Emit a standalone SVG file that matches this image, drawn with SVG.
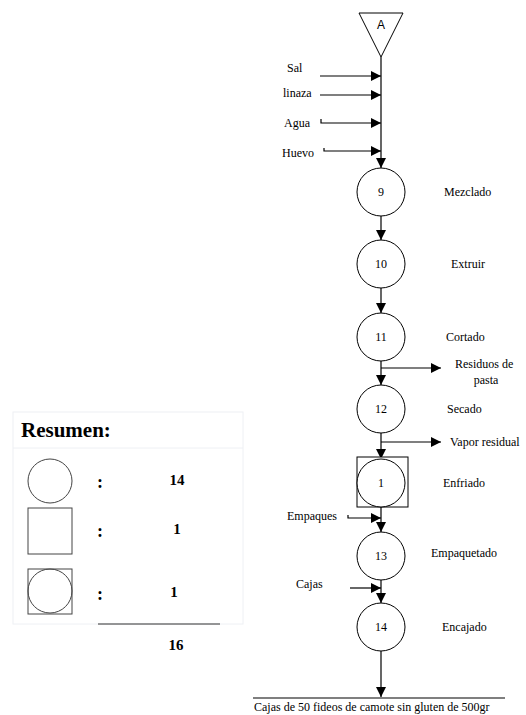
<svg xmlns="http://www.w3.org/2000/svg" width="526" height="715" viewBox="0 0 526 715">
<defs>
<marker id="ah" viewBox="0 0 10 10" refX="10" refY="5" markerWidth="10" markerHeight="10" markerUnits="userSpaceOnUse" orient="auto">
<path d="M0,0 L10,5 L0,10 z" fill="#000"/>
</marker>
</defs>
<style>
text{font-family:"Liberation Serif","DejaVu Serif",serif}
.t{font-size:12px;fill:#000}
.c{text-anchor:middle;dominant-baseline:central}
.s{fill:#fff;stroke:#000;stroke-width:1}
.ln{stroke:#000;stroke-width:1.2;fill:none}
.b{font-weight:bold;fill:#000}
</style>
<rect width="526" height="715" fill="#fff"/>

<g id="connectors">
<line class="ln" x1="381" y1="57" x2="381" y2="168" marker-end="url(#ah)"/>
<line class="ln" x1="320" y1="76" x2="381" y2="76" marker-end="url(#ah)"/>
<line class="ln" x1="320" y1="95" x2="381" y2="95" marker-end="url(#ah)"/>
<polyline class="ln" points="321,119 321,123 381,123" marker-end="url(#ah)"/>
<polyline class="ln" points="324,148 324,151 381,151" marker-end="url(#ah)"/>
<line class="ln" x1="381" y1="216" x2="381" y2="240" marker-end="url(#ah)"/>
<line class="ln" x1="381" y1="288" x2="381" y2="313" marker-end="url(#ah)"/>
<line class="ln" x1="381" y1="361" x2="381" y2="385" marker-end="url(#ah)"/>
<line class="ln" x1="381" y1="368" x2="441" y2="368" marker-end="url(#ah)"/>
<line class="ln" x1="381" y1="433" x2="381" y2="459" marker-end="url(#ah)"/>
<line class="ln" x1="381" y1="442" x2="441" y2="442" marker-end="url(#ah)"/>
<line class="ln" x1="381" y1="507" x2="381" y2="532" marker-end="url(#ah)"/>
<polyline class="ln" points="348,515 348,518 381,518" marker-end="url(#ah)"/>
<line class="ln" x1="381" y1="580" x2="381" y2="603" marker-end="url(#ah)"/>
<line class="ln" x1="350" y1="588" x2="381" y2="588" marker-end="url(#ah)"/>
<line class="ln" x1="381" y1="651" x2="381" y2="697" marker-end="url(#ah)"/>
<line class="ln" x1="253" y1="698" x2="505" y2="698"/>
</g>

<g id="nodeA">
<polygon class="s" points="359,13 403,13 381,57"/>
<text x="381" y="25" text-anchor="middle" dominant-baseline="central" style="font-family:'Liberation Sans',Arial,sans-serif;font-size:12px">A</text>
</g>
<g id="inputs1">
<text class="t" x="287" y="72">Sal</text>
<text class="t" x="283" y="97">linaza</text>
<text class="t" x="284" y="127">Agua</text>
<text class="t" x="282" y="157">Huevo</text>
</g>

<g id="n9"><circle class="s" cx="381" cy="192" r="24"/><text class="t c" x="381" y="192">9</text><text class="t" x="444" y="196">Mezclado</text></g>
<g id="n10"><circle class="s" cx="381" cy="264" r="24"/><text class="t c" x="381" y="264">10</text><text class="t" x="451" y="268">Extruir</text></g>
<g id="n11"><circle class="s" cx="381" cy="337" r="24"/><text class="t c" x="381" y="337">11</text><text class="t" x="446" y="341">Cortado</text></g>
<g id="residuos"><text class="t" x="455" y="368">Residuos de</text><text class="t" x="486" y="384" text-anchor="middle">pasta</text></g>
<g id="n12"><circle class="s" cx="381" cy="409" r="24"/><text class="t c" x="381" y="409">12</text><text class="t" x="447" y="413">Secado</text></g>
<g id="vapor"><text class="t" x="450" y="446">Vapor residual</text></g>
<g id="n1"><rect class="s" x="357" y="457" width="51" height="50"/><circle class="s" cx="381" cy="483" r="24"/><text class="t c" x="381" y="483">1</text><text class="t" x="443" y="487">Enfriado</text></g>
<g id="empaques"><text class="t" x="287" y="520">Empaques</text></g>
<g id="n13"><circle class="s" cx="381" cy="556" r="24"/><text class="t c" x="381" y="556">13</text><text class="t" x="431" y="557">Empaquetado</text></g>
<g id="cajas"><text class="t" x="296" y="588">Cajas</text></g>
<g id="n14"><circle class="s" cx="381" cy="627" r="24"/><text class="t c" x="381" y="627">14</text><text class="t" x="442" y="631">Encajado</text></g>
<g id="product"><text class="t" x="254" y="711">Cajas de 50 fideos de camote sin gluten de 500gr</text></g>

<g id="resumen">
<rect x="13" y="412" width="230" height="212" fill="#fff" stroke="#eef0f4" stroke-width="1"/>
<line x1="13" y1="448" x2="243" y2="448" stroke="#eef0f4" stroke-width="1"/>
<text class="b" x="21" y="437" style="font-size:21px">Resumen:</text>
<circle cx="50" cy="481" r="22" fill="none" stroke="#444" stroke-width="1"/>
<rect x="28" y="508" width="44" height="46" fill="none" stroke="#444" stroke-width="1"/>
<rect x="28" y="569" width="44" height="45" fill="none" stroke="#444" stroke-width="1"/>
<circle cx="50" cy="591" r="22" fill="none" stroke="#444" stroke-width="1"/>
<text class="b" x="100" y="488" style="font-size:18px" text-anchor="middle">:</text>
<text class="b" x="100" y="537" style="font-size:18px" text-anchor="middle">:</text>
<text class="b" x="100" y="600" style="font-size:18px" text-anchor="middle">:</text>
<text class="b" x="177" y="485" style="font-size:15px" text-anchor="middle">14</text>
<text class="b" x="177" y="534" style="font-size:15px" text-anchor="middle">1</text>
<text class="b" x="174" y="597" style="font-size:15px" text-anchor="middle">1</text>
<line x1="98" y1="624" x2="220" y2="624" stroke="#333" stroke-width="1.2"/>
<text class="b" x="176" y="650" style="font-size:15px" text-anchor="middle">16</text>
</g>
</svg>
